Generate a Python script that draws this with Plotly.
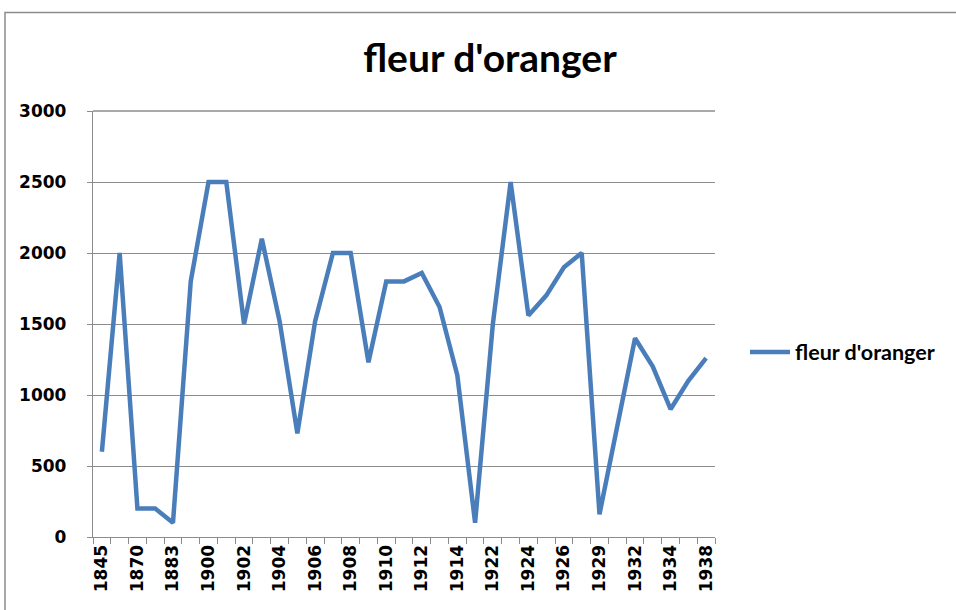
import plotly.graph_objects as go

years = ["1845", "1860", "1870", "1880", "1883", "1890", "1900", "1901", "1902", "1903",
         "1904", "1905", "1906", "1907", "1908", "1909", "1910", "1911", "1912", "1913",
         "1914", "1920", "1922", "1923", "1924", "1925", "1926", "1927", "1929", "1930",
         "1932", "1933", "1934", "1936", "1938"]
values = [600, 2000, 200, 200, 100, 1800, 2500, 2500, 1500, 2100,
          1520, 730, 1520, 2000, 2000, 1230, 1800, 1800, 1860, 1620,
          1140, 100, 1500, 2500, 1560, 1700, 1900, 2000, 160, 800,
          1400, 1200, 900, 1100, 1260]
shown_labels = ["1845", "1870", "1883", "1900", "1902", "1904", "1906", "1908", "1910",
                "1912", "1914", "1922", "1924", "1926", "1929", "1932", "1934", "1938"]
y_ticks = [0, 500, 1000, 1500, 2000, 2500, 3000]
series_name = "fleur d'oranger"
title_text = "fleur d'oranger"

W, H = 956, 610
L, R, T, B = 93, 715, 111, 537

fig = go.Figure()
fig.add_trace(go.Scatter(
    x=years, y=values, mode="lines", name=series_name,
    line=dict(color="#4A7EBB", width=4.5),
))

ticktext = [y if y in shown_labels else "" for y in years]
grid = "#8C8C8C"
tick_font = dict(family="DejaVu Sans", size=17, color="#000000", weight="bold")

fig.update_layout(
    width=W, height=H,
    margin=dict(l=L, r=W - R, t=T, b=H - B, pad=0),
    paper_bgcolor="white", plot_bgcolor="white",
    title=dict(text=title_text, x=490 / W, xanchor="center",
               y=1 - 58 / H, yanchor="middle",
               font=dict(family="Lato", size=39, color="#000000", weight="bold")),
    showlegend=True,
    legend=dict(x=(745 - L) / (R - L), y=(B - 352) / (B - T),
                xanchor="left", yanchor="middle",
                font=dict(family="Lato", size=21.5, color="#000000", weight="bold"),
                bgcolor="rgba(0,0,0,0)", itemwidth=40),
    xaxis=dict(type="category", tickmode="array", tickvals=years, ticktext=ticktext,
               tickangle=-90, tickson="boundaries", ticks="outside", ticklen=6,
               tickcolor=grid, tickwidth=1.3, showline=True, linecolor=grid, linewidth=1.3,
               showgrid=False, tickfont=tick_font, range=[-0.5, len(years) - 0.5],
               fixedrange=True),
    yaxis=dict(range=[0, y_ticks[-1]], tickmode="array", tickvals=y_ticks, showgrid=True,
               gridcolor=grid, gridwidth=1.3, showline=True, linecolor=grid, linewidth=1.3,
               ticks="outside", ticklen=5, tickcolor=grid, tickwidth=1.3,
               ticklabelstandoff=17, tickfont=tick_font, zeroline=False, fixedrange=True),
    shapes=[
        dict(type="rect", xref="paper", yref="paper",
             x0=(5 - L) / (R - L), x1=(965 - L) / (R - L),
             y0=(B - 620) / (B - T), y1=(B - 12.5) / (B - T),
             line=dict(color="#8C8C8C", width=1.5), fillcolor="rgba(0,0,0,0)",
             layer="below"),
        dict(type="line", xref="paper", yref="paper", x0=0, x1=1, y0=1, y1=1,
             line=dict(color=grid, width=1.3), layer="above"),
    ],
)

fig.write_html("out.html", post_script="document.body.style.margin='0';",
               config={"displayModeBar": False})
